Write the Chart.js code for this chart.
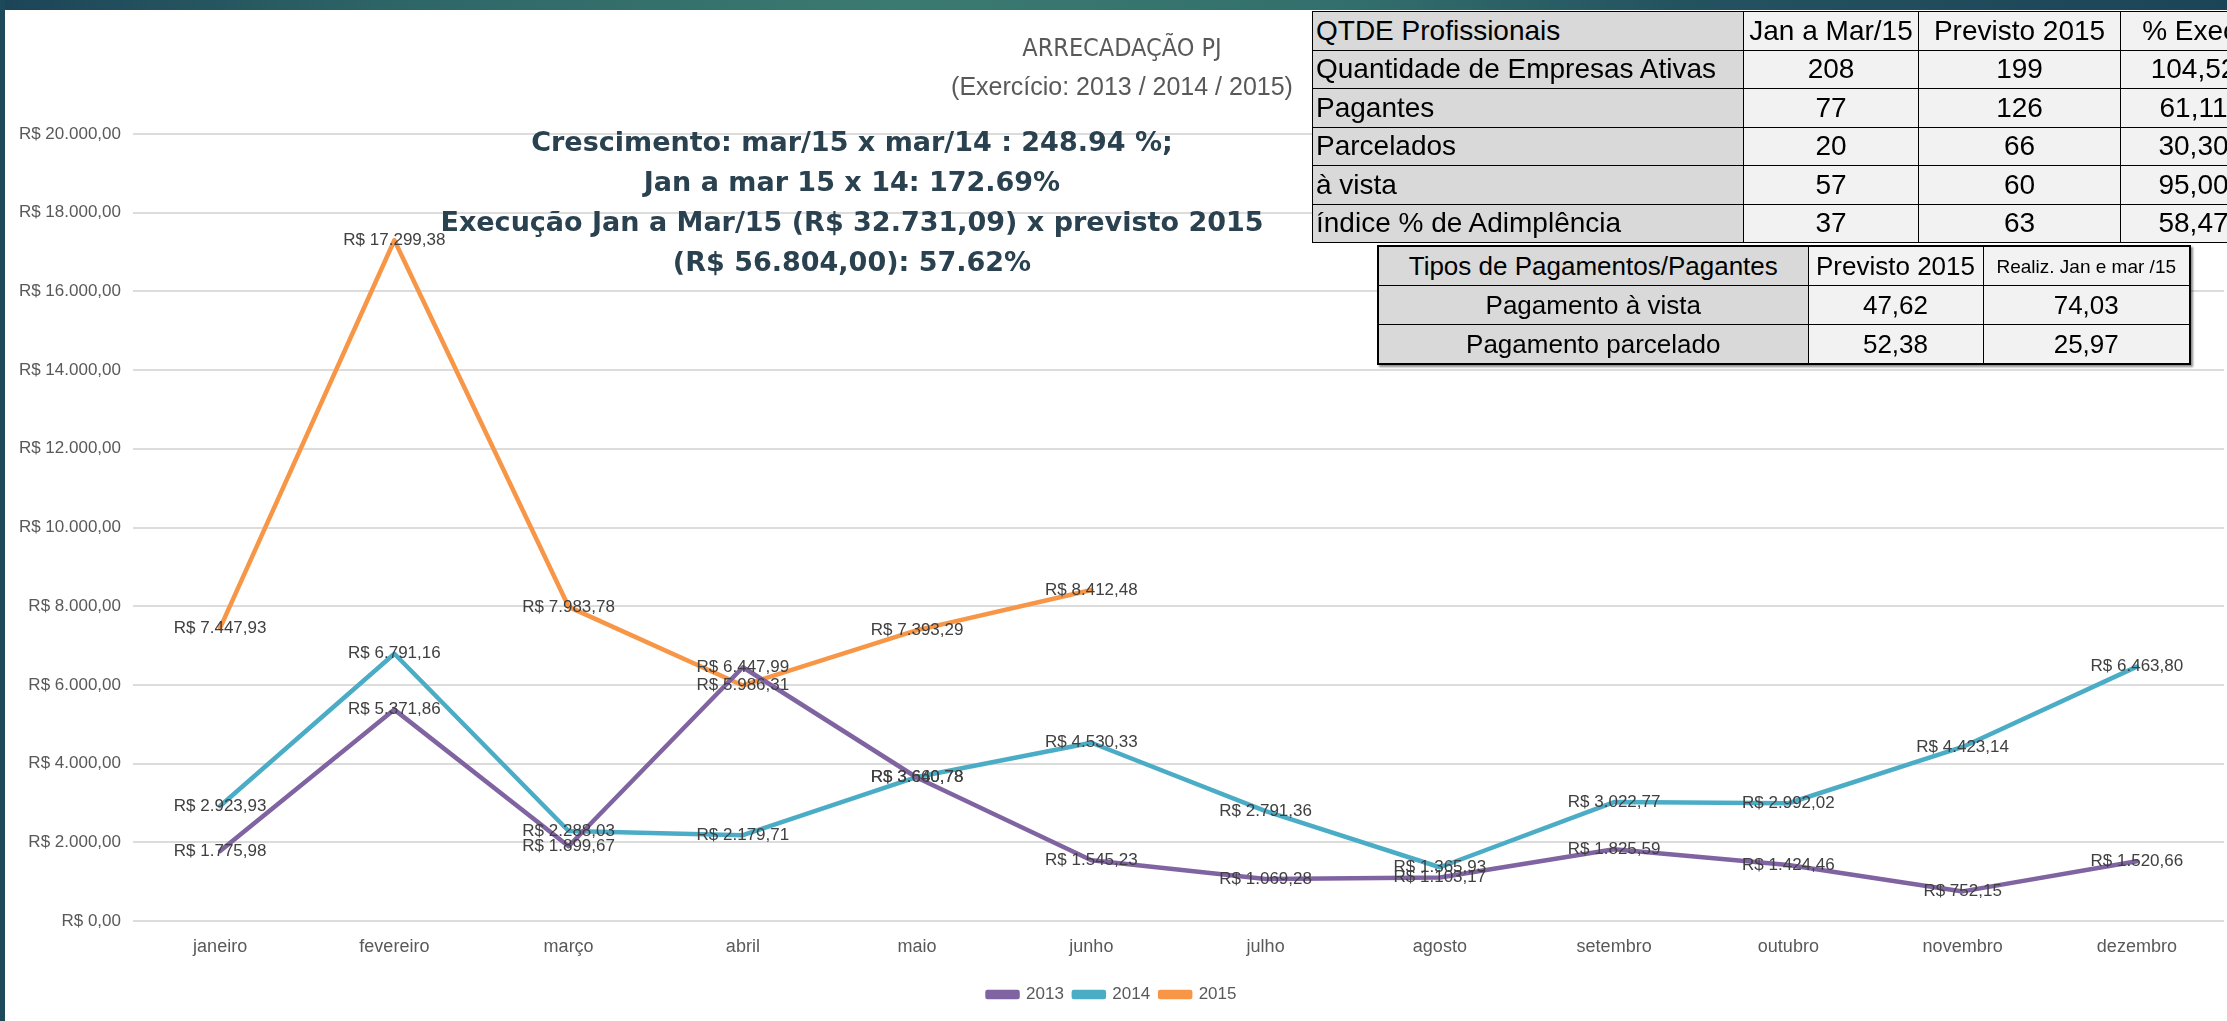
<!DOCTYPE html>
<html>
<head>
<meta charset="utf-8">
<script src="https://cdn.jsdelivr.net/npm/chart.js@4.4.1/dist/chart.umd.min.js"></script>
<style>
    html, body { margin: 0; padding: 0; width: 2227px; height: 1021px; overflow: hidden; background: #fff; }
    body { position: relative; font-family: "Liberation Sans", Arial, sans-serif; }
    .band { position: absolute; left: 0; top: 0; width: 2227px; height: 10px;
        background: linear-gradient(90deg, #1c4457 0%, #2e6668 18%, #3b7a70 40%, #33706d 60%, #245360 75%, #1c4457 100%); }
    .strip { position: absolute; left: 0; top: 0; width: 5px; height: 1021px; background: #1c4a5a; }
    #wrap { position: absolute; left: 0; top: 0; width: 2227px; height: 1021px; }
    .title { position: absolute; left: 922px; width: 400px; text-align: center; color: #595959; font-size: 25px; line-height: 38px; top: 28px; }
    .title .t-main { font-family: "Liberation Sans Narrow", "DejaVu Sans Condensed", sans-serif; font-size: 25px; }
    .note { position: absolute; left: 352px; width: 1000px; top: 122px; text-align: center;
        font-family: "DejaVu Sans", sans-serif; font-weight: bold; font-size: 27px; line-height: 40px; color: #2a4150; }
    table { position: absolute; border-collapse: collapse; table-layout: fixed; color: #000; }
    td { border: 1.5px solid #000; padding: 0 3px; white-space: nowrap; overflow: hidden; line-height: 1; }
    .t1 { left: 1312px; top: 11px; width: 954px; font-size: 28px; }
    .t1 td { height: 37.5px; text-align: center; background: #f2f2f2; }
    .t1 tr:first-child td { background: #d9d9d9; }
    .t1 td.lbl { text-align: left; background: #d9d9d9; }
    .t1 tr:first-child td.lbl { text-align: center; }
    .t2 { left: 1377px; top: 245px; width: 812px; font-size: 26px; border: 2px solid #000; box-shadow: 2px 2px 2px rgba(0,0,0,0.45); }
    .t2 td { height: 38px; text-align: center; background: #f2f2f2; }
    .t2 tr:first-child td, .t2 td.lbl { background: #d9d9d9; }
    .t2 td.small { font-size: 19px; }
</style>
</head>
<body>
<div id="wrap"><canvas id="chart"></canvas></div>
<div class="band"></div>
<div class="strip"></div>
<div class="title"><span class="t-main">ARRECADAÇÃO PJ</span><br>(Exercício: 2013 / 2014 / 2015)</div>
<div class="note">Crescimento: mar/15 x mar/14 : 248.94 %;<br>Jan a mar 15 x 14: 172.69%<br>Execução Jan a Mar/15 (R$ 32.731,09) x previsto 2015<br>(R$ 56.804,00): 57.62%</div>

<table class="t1" id="t1">
    <colgroup><col style="width:431px"><col style="width:175px"><col style="width:202px"><col style="width:146px"></colgroup>
</table>
<table class="t2" id="t2">
    <colgroup><col style="width:430px"><col style="width:175px"><col style="width:207px"></colgroup>
</table>

<script>
// Chart data
const months = ['janeiro', 'fevereiro', 'março', 'abril', 'maio', 'junho', 'julho', 'agosto', 'setembro', 'outubro', 'novembro', 'dezembro'];
const values2013 = [1775.98, 5371.86, 1899.67, 6447.99, 3640.78, 1545.23, 1069.28, 1103.17, 1825.59, 1424.46, 752.15, 1520.66];
const values2014 = [2923.93, 6791.16, 2288.03, 2179.71, 3660.78, 4530.33, 2791.36, 1365.93, 3022.77, 2992.02, 4423.14, 6463.80];
const values2015 = [7447.93, 17299.38, 7983.78, 5986.31, 7393.29, 8412.48, null, null, null, null, null, null];
const yTicks = [0, 2000, 4000, 6000, 8000, 10000, 12000, 14000, 16000, 18000, 20000];

// Side tables
const table1Header = ['QTDE Profissionais', 'Jan a Mar/15', 'Previsto 2015', '% Exec.'];
const table1Rows = [
    ['Quantidade de Empresas Ativas', '208', '199', '104,52'],
    ['Pagantes', '77', '126', '61,11'],
    ['Parcelados', '20', '66', '30,30'],
    ['à vista', '57', '60', '95,00'],
    ['índice % de Adimplência', '37', '63', '58,47']
];
const table2Header = ['Tipos de Pagamentos/Pagantes', 'Previsto 2015', 'Realiz. Jan e mar /15'];
const table2Rows = [
    ['Pagamento à vista', '47,62', '74,03'],
    ['Pagamento parcelado', '52,38', '25,97']
];

function brl(v) {
    const parts = v.toFixed(2).split('.');
    return 'R$ ' + parts[0].replace(/\B(?=(\d{3})+(?!\d))/g, '.') + ',' + parts[1];
}

function fillTable(id, header, rows, smallCol) {
    const table = document.getElementById(id);
    const all = [header].concat(rows);
    all.forEach((row, r) => {
        const tr = document.createElement('tr');
        row.forEach((txt, c) => {
            const td = document.createElement('td');
            td.textContent = txt;
            if (c === 0) td.className = 'lbl';
            if (r === 0 && c === smallCol) td.className = 'small';
            tr.appendChild(td);
        });
        table.appendChild(tr);
    });
}
fillTable('t1', table1Header, table1Rows, -1);
fillTable('t2', table2Header, table2Rows, 2);

// Values drawn centered on each point, as in the original
const pointLabels = {
    id: 'pointLabels',
    afterDatasetsDraw(chart) {
        const ctx = chart.ctx;
        ctx.save();
        ctx.font = '17px "Liberation Sans", Arial, sans-serif';
        ctx.fillStyle = '#404040';
        ctx.textAlign = 'center';
        ctx.textBaseline = 'middle';
        chart.data.datasets.forEach((ds, i) => {
            const meta = chart.getDatasetMeta(i);
            meta.data.forEach((pt, j) => {
                const v = ds.data[j];
                if (v === null || v === undefined) return;
                ctx.fillText(brl(v), pt.x, pt.y);
            });
        });
        ctx.restore();
    }
};

const canvas = document.getElementById('chart');
canvas.width = 2227;
canvas.height = 1021;

new Chart(canvas.getContext('2d'), {
    type: 'line',
    data: {
        labels: months,
        datasets: [
            { label: '2013', data: values2013, borderColor: '#8064a2', backgroundColor: '#8064a2' },
            { label: '2014', data: values2014, borderColor: '#4bacc6', backgroundColor: '#4bacc6' },
            { label: '2015', data: values2015, borderColor: '#f79646', backgroundColor: '#f79646' }
        ]
    },
    options: {
        responsive: false,
        animation: false,
        devicePixelRatio: 1,
        layout: { padding: { left: 0, right: 3, top: 134, bottom: 8 } },
        elements: {
            line: { borderWidth: 4.5, tension: 0, borderCapStyle: 'round', borderJoinStyle: 'round' },
            point: { radius: 0, hoverRadius: 0 }
        },
        plugins: {
            legend: {
                position: 'bottom',
                labels: {
                    boxWidth: 30,
                    boxHeight: 5,
                    padding: 10,
                    color: '#595959',
                    font: { family: '"Liberation Sans", Arial, sans-serif', size: 17 }
                }
            },
            tooltip: { enabled: false }
        },
        scales: {
            x: {
                offset: true,
                grid: { display: false, drawTicks: false },
                border: { display: false },
                ticks: {
                    padding: 15,
                    color: '#595959',
                    font: { family: '"Liberation Sans", Arial, sans-serif', size: 18 }
                },
                afterFit(scale) { scale.height = 55; }
            },
            y: {
                min: 0,
                max: 20000,
                afterBuildTicks(scale) { scale.ticks = yTicks.map(v => ({ value: v })); },
                grid: { color: '#dcdcdc', lineWidth: 2, drawTicks: false },
                border: { display: false },
                ticks: {
                    padding: 12,
                    color: '#595959',
                    font: { family: '"Liberation Sans", Arial, sans-serif', size: 17 },
                    callback: v => brl(v)
                },
                afterFit(scale) { scale.width = 133; }
            }
        }
    },
    plugins: [pointLabels]
});
</script>
</body>
</html>
